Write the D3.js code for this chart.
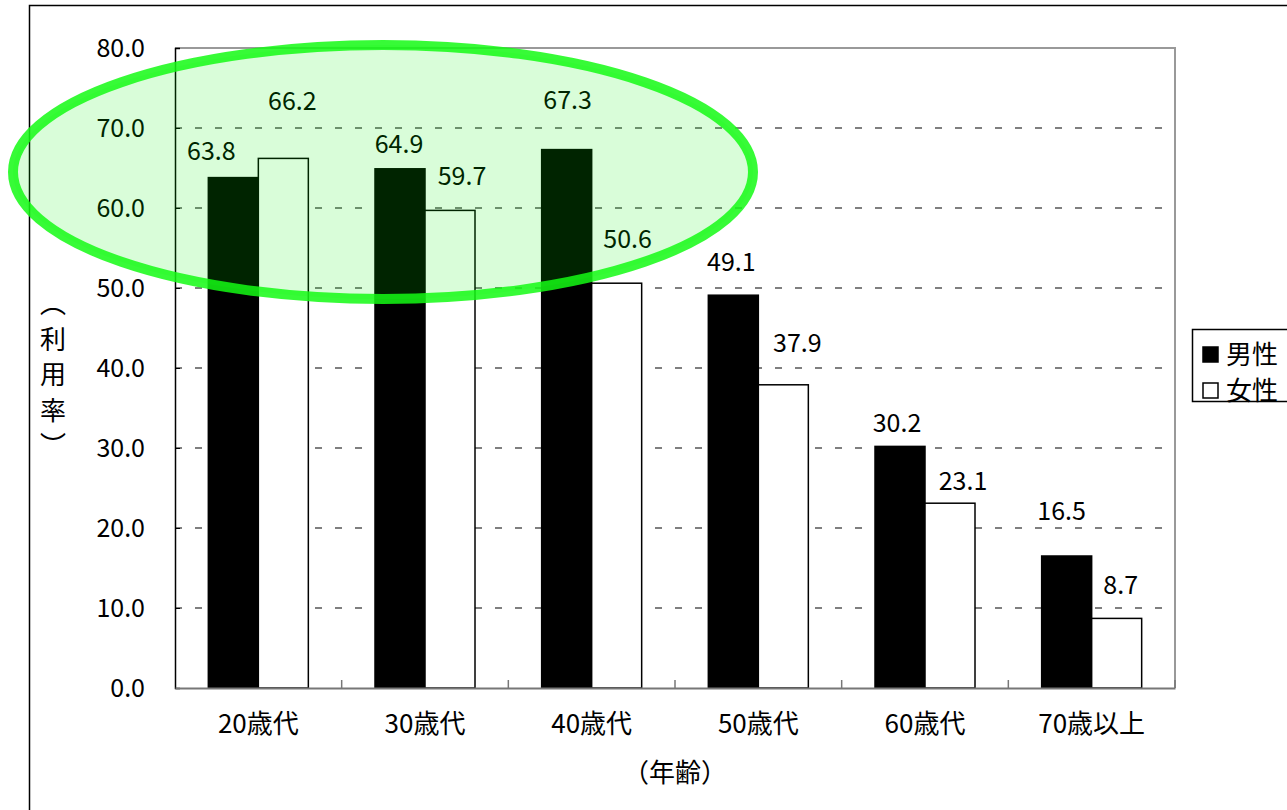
<!DOCTYPE html>
<html>
<head>
<meta charset="utf-8">
<script src="https://cdn.jsdelivr.net/npm/d3@7"></script>
<style>
  body { margin: 0; background: #fff; }
  svg text { font-family: "Noto Sans CJK JP", "Liberation Sans", sans-serif; fill: #000; }
</style>
</head>
<body>
<svg id="chart" width="1287" height="810"></svg>
<script>
// age groups
var categories = ['20歳代', '30歳代', '40歳代', '50歳代', '60歳代', '70歳以上'];
// series
var seriesNames = ['男性', '女性'];
var maleValues = [63.8, 64.9, 67.3, 49.1, 30.2, 16.5];
var femaleValues = [66.2, 59.7, 50.6, 37.9, 23.1, 8.7];
// y axis ticks
var yTicks = [0, 10, 20, 30, 40, 50, 60, 70, 80];
// axis titles
var yTitle = ['︵', '利', '用', '率', '︶'];
var xTitle = '（年齢）';

/**
 * Manual nudges of the data labels (px), as they were moved in the original sheet
 */
var labelDx = [[-22, -1, 1, -2, -3, -5], [9, 12, 11, 14, 13, 4]];
var labelDy = [[-27, -25, -50, -33, -23, -45], [-57, -34, -44, -42, -22, -33]];

var svg = d3.select('#chart');
var plot = {left: 175, top: 48, right: 1175, bottom: 688};

var x0 = d3.scaleBand().domain(categories).range([plot.left, plot.right]).paddingInner(0).paddingOuter(0);
var x1 = d3.scaleBand().domain(seriesNames).range([0, x0.bandwidth()]).paddingInner(0).paddingOuter(2 / 3);
var y = d3.scaleLinear().domain([0, 80]).range([plot.bottom, plot.top]);

//outer chart frame (runs off the picture to the right and bottom)
svg.append('rect')
    .attr('x', 29.5).attr('y', 5.5)
    .attr('width', 1400).attr('height', 900)
    .attr('fill', 'none').attr('stroke', '#000').attr('stroke-width', 1.5);

//dashed gridlines
svg.append('g').classed('grid', true)
    .selectAll('line')
    .data(yTicks.filter(function(d){ return d > 0 && d < 80; }))
    .enter()
    .append('line')
    .attr('x1', plot.left).attr('x2', plot.right)
    .attr('y1', function(d){ return y(d); })
    .attr('y2', function(d){ return y(d); })
    .attr('stroke', '#555').attr('stroke-width', 1.5)
    .attr('stroke-dasharray', '7,13');

//top and right border of the plot area
svg.append('path')
    .attr('d', 'M' + plot.left + ',' + plot.top + 'H' + plot.right + 'V' + plot.bottom)
    .attr('fill', 'none').attr('stroke', '#999').attr('stroke-width', 2);

//bars
var rows = categories.map(function(c, i){
    return {cat: c, values: [maleValues[i], femaleValues[i]]};
});
var groups = svg.append('g').classed('bars', true)
    .selectAll('g')
    .data(rows)
    .enter()
    .append('g')
    .attr('transform', function(d){ return 'translate(' + x0(d.cat) + ',0)'; });

groups.selectAll('rect')
    .data(function(d){ return d.values.map(function(v, s){ return {s: s, v: v}; }); })
    .enter()
    .append('rect')
    .attr('x', function(d){ return x1(seriesNames[d.s]); })
    .attr('y', function(d){ return y(d.v); })
    .attr('width', x1.bandwidth())
    .attr('height', function(d){ return y(0) - y(d.v); })
    .attr('fill', function(d){ return d.s == 0 ? '#000' : '#fff'; })
    .attr('stroke', '#000')
    .attr('stroke-width', 1.5);

//data labels
groups.each(function(row, i){
    d3.select(this).selectAll('text')
        .data(row.values)
        .enter()
        .append('text')
        .attr('x', function(v, s){ return x1(seriesNames[s]) + x1.bandwidth() / 2 + labelDx[s][i]; })
        .attr('y', function(v, s){ return y(v) + labelDy[s][i]; })
        .attr('dy', '0.36em')
        .attr('text-anchor', 'middle')
        .style('font-size', '25px')
        .text(function(v){ return d3.format('.1f')(v); });
});

//y axis
var yAxis = svg.append('g')
    .attr('transform', 'translate(' + plot.left + ',0)')
    .call(d3.axisLeft(y).tickValues(yTicks).tickFormat(d3.format('.1f')).tickSize(-5).tickPadding(30));
yAxis.select('.domain').attr('stroke', '#000').attr('stroke-width', 1.5);
yAxis.selectAll('.tick line').attr('stroke', '#000');
yAxis.selectAll('text').style('font-size', '25px').attr('fill', '#000');

//x axis
var xAxis = svg.append('g')
    .attr('transform', 'translate(0,' + plot.bottom + ')')
    .call(d3.axisBottom(x0).tickSize(0).tickPadding(27));
xAxis.select('.domain').attr('stroke', '#777').attr('stroke-width', 2);
xAxis.selectAll('text').style('font-size', '26px').attr('fill', '#000');

//small tick marks between categories
svg.append('g').selectAll('line')
    .data(categories)
    .enter()
    .append('line')
    .attr('x1', function(d){ return x0(d) + x0.bandwidth(); })
    .attr('x2', function(d){ return x0(d) + x0.bandwidth(); })
    .attr('y1', plot.bottom - 8).attr('y2', plot.bottom)
    .attr('stroke', '#777').attr('stroke-width', 1.5);

//axis titles
svg.append('text')
    .attr('x', (plot.left + plot.right) / 2).attr('y', 773)
    .attr('dy', '0.36em')
    .attr('text-anchor', 'middle')
    .style('font-size', '26px')
    .text(xTitle);

svg.append('g').selectAll('text')
    .data(yTitle)
    .enter()
    .append('text')
    .attr('x', 53)
    .attr('y', function(d, i){ return 304 + i * 35.5; })
    .attr('dy', '0.36em')
    .attr('text-anchor', 'middle')
    .style('font-size', '26px')
    .text(function(d){ return d; });

//legend
var legend = svg.append('g').classed('legend', true);
legend.append('rect')
    .attr('x', 1192.5).attr('y', 329.5)
    .attr('width', 200).attr('height', 72)
    .attr('fill', '#fff').attr('stroke', '#000').attr('stroke-width', 1.5);
seriesNames.forEach(function(name, i){
    legend.append('rect')
        .attr('x', 1203).attr('y', 347 + i * 36)
        .attr('width', 15).attr('height', 15)
        .attr('fill', i == 0 ? '#000' : '#fff')
        .attr('stroke', '#000').attr('stroke-width', 1.5);
    legend.append('text')
        .attr('x', 1226).attr('y', 355 + i * 36)
        .attr('dy', '0.36em')
        .style('font-size', '26px')
        .text(name);
});

//green highlight ellipse on top of everything
svg.append('ellipse')
    .attr('cx', 383).attr('cy', 172)
    .attr('rx', 370).attr('ry', 127)
    .attr('fill', 'rgba(0,240,0,0.15)')
    .attr('stroke', 'rgb(20,250,20)')
    .attr('stroke-opacity', 0.85)
    .attr('stroke-width', 10);
</script>
</body>
</html>
